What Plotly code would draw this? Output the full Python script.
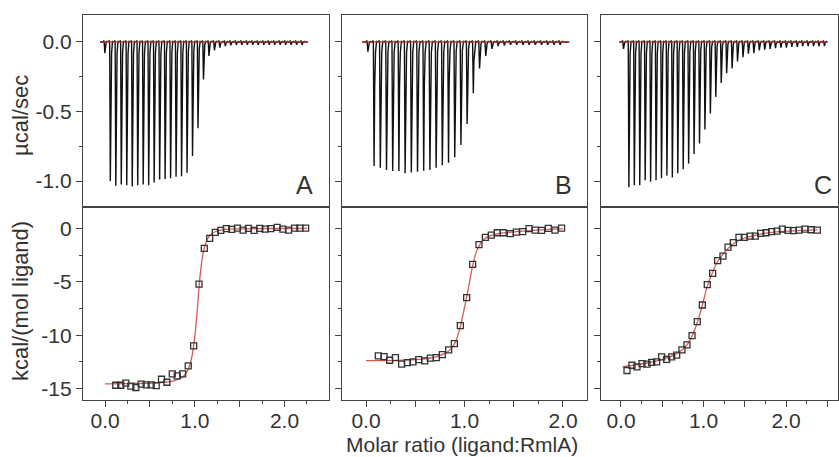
import plotly.graph_objects as go

# ---------------- data ----------------
# Top panels: raw thermogram, peak depth (µcal/sec) of each injection
peaks_A = [-0.08, -1.00, -1.035, -1.025, -1.03, -1.04, -1.03, -1.025, -1.03, -1.01,
           -0.99, -0.985, -0.98, -0.97, -0.965, -0.94, -0.82, -0.62, -0.27, -0.10,
           -0.06, -0.04, -0.03, -0.025, -0.02, -0.02, -0.02, -0.02, -0.02, -0.02,
           -0.02, -0.02, -0.02, -0.02, -0.02, -0.02, -0.02]
peaks_B = [-0.07, -0.892, -0.904, -0.921, -0.928, -0.928, -0.945, -0.938, -0.933, -0.926,
           -0.921, -0.904, -0.887, -0.868, -0.830, -0.741, -0.590, -0.369, -0.19, -0.10,
           -0.05, -0.03, -0.025, -0.02, -0.02, -0.02, -0.02, -0.02, -0.02, -0.02,
           -0.02, -0.02]
peaks_C = [-0.05, -1.045, -1.03, -1.03, -0.995, -1.005, -0.995, -0.98, -0.96, -0.975,
           -0.945, -0.915, -0.875, -0.805, -0.73, -0.63, -0.515, -0.395, -0.295, -0.225,
           -0.19, -0.14, -0.11, -0.085, -0.08, -0.06, -0.055, -0.05, -0.045, -0.04,
           -0.04, -0.035, -0.035, -0.03, -0.03, -0.03, -0.03, -0.03]
# injection schedule (minutes)
first_inj = {"A": 2.35, "B": 2.42, "C": 2.0}
inj_interval = 3.0
run_end = {"A": 113.8, "B": 100.1, "C": 114.6}

# Bottom panels: integrated heats
ratio_A = [0.119, 0.175, 0.231, 0.287, 0.343, 0.402, 0.458, 0.514, 0.570, 0.629, 0.689, 0.749,
           0.804, 0.864, 0.927, 0.987, 1.047, 1.106, 1.166, 1.229, 1.289, 1.352, 1.412, 1.475,
           1.538, 1.598, 1.661, 1.724, 1.784, 1.847, 1.918, 1.981, 2.045, 2.112, 2.171, 2.235]
heat_A = [-14.68, -14.68, -14.49, -14.77, -14.89, -14.58, -14.65, -14.65, -14.71, -14.12, -14.40,
          -13.62, -13.80, -13.62, -12.87, -11.00, -5.21, -1.87, -0.94, -0.38, -0.19, -0.03,
          -0.10, 0.03, -0.16, 0.00, -0.19, 0.00, -0.07, -0.03, 0.09, -0.07, -0.16, 0.03, 0.03, 0.03]
ratio_B = [0.125, 0.183, 0.240, 0.298, 0.362, 0.420, 0.477, 0.535, 0.596, 0.653, 0.714, 0.775,
           0.839, 0.897, 0.958, 1.022, 1.083, 1.147, 1.212, 1.272, 1.333, 1.394, 1.465, 1.526,
           1.591, 1.655, 1.719, 1.783, 1.851, 1.919, 1.986]
heat_B = [-11.93, -12.00, -12.34, -12.09, -12.71, -12.56, -12.50, -12.28, -12.40, -12.15, -12.09,
          -11.81, -11.37, -10.78, -9.10, -6.48, -3.37, -1.53, -0.84, -0.63, -0.41, -0.41, -0.50,
          -0.35, -0.31, -0.03, -0.16, -0.19, 0.00, -0.16, 0.03]
ratio_C = [0.073, 0.133, 0.194, 0.255, 0.315, 0.372, 0.432, 0.493, 0.554, 0.614, 0.675, 0.739,
           0.800, 0.861, 0.925, 0.986, 1.046, 1.111, 1.172, 1.236, 1.297, 1.362, 1.430, 1.495,
           1.564, 1.628, 1.693, 1.758, 1.826, 1.891, 1.956, 2.024, 2.089, 2.158, 2.230, 2.303, 2.380]
heat_C = [-13.30, -12.81, -12.96, -12.65, -12.71, -12.53, -12.50, -12.03, -12.25, -12.03, -11.87,
          -11.37, -10.91, -10.03, -8.73, -7.17, -5.27, -4.21, -3.02, -2.59, -1.75, -1.34, -0.84,
          -0.84, -0.72, -0.72, -0.47, -0.41, -0.31, -0.25, -0.07, -0.19, -0.22, -0.16, -0.07,
          -0.13, -0.16]

# fitted curves
fit_x_A = [0.0, 0.3, 0.6, 0.75, 0.85, 0.9, 0.94, 0.97, 0.99, 1.01, 1.03, 1.05, 1.07, 1.09,
           1.11, 1.14, 1.18, 1.24, 1.32, 1.45, 1.7, 2.0, 2.25]
fit_y_A = [-14.55, -14.52, -14.45, -14.3, -14.0, -13.6, -12.9, -11.9, -10.8, -9.3, -7.4, -5.2,
           -3.6, -2.4, -1.7, -1.0, -0.55, -0.27, -0.12, -0.05, -0.02, -0.01, 0.0]
fit_x_B = [0.0, 0.3, 0.55, 0.7, 0.8, 0.86, 0.91, 0.96, 1.0, 1.04, 1.08, 1.12, 1.16, 1.2, 1.26,
           1.35, 1.5, 1.7, 1.85, 2.0]
fit_y_B = [-12.37, -12.35, -12.25, -12.05, -11.7, -11.3, -10.6, -9.1, -7.4, -5.6, -3.6, -2.2,
           -1.45, -1.0, -0.7, -0.48, -0.32, -0.18, -0.1, -0.03]
fit_x_C = [0.02, 0.3, 0.5, 0.68, 0.8, 0.86, 0.925, 0.986, 1.046, 1.11, 1.17, 1.24, 1.3, 1.4,
           1.5, 1.65, 1.8, 2.0, 2.2, 2.38]
fit_y_C = [-12.93, -12.62, -12.25, -11.7, -10.9, -10.1, -8.8, -7.2, -5.4, -4.1, -3.1, -2.4,
           -1.85, -1.25, -0.9, -0.6, -0.4, -0.26, -0.18, -0.14]

panel_labels = ["A", "B", "C"]
y_top_ticks = [0.0, -0.5, -1.0]
y_top_text = ["0.0", "-0.5", "-1.0"]
y_bot_ticks = [0, -5, -10, -15]
y_bot_text = ["0", "-5", "-10", "-15"]
x_bot_ticks = [0.0, 0.5, 1.0, 1.5, 2.0, 2.5]
x_bot_text = ["0.0", "", "1.0", "", "2.0", ""]

# ---------------- layout geometry ----------------
W, H = 839, 457
ML, MR, MT, MB = 83, 1, 15, 57
PW, PH = W - ML - MR, H - MT - MB
cols_px = [(83, 328.5), (342, 587), (601, 838)]
row_split_px = 207
x_dom = [[(a - ML) / PW, (b - ML) / PW] for a, b in cols_px]
y_dom_top = [(H - MB - row_split_px) / PH, 1.0]
y_dom_bot = [0.0, (H - MB - row_split_px) / PH]
top_xrange = {"A": [-9.3, 125.1], "B": [-9.8, 108.7], "C": [-10.1, 120.8]}
bot_xrange = {"A": [-0.246, 2.49], "B": [-0.244, 2.244], "C": [-0.242, 2.63]}
top_yrange = [-1.187, 0.194]
bot_yrange = [-16.06, 2.0]

FONT = "Liberation Sans, Arial, sans-serif"
TXT = "#333333"
AX = "#444444"
TICK_FS = 21
TITLE_FS = 22

# spike shape: (time offset, fraction of depth, absolute offset)
SPIKE = [(-0.45, 0.0, 0.0), (-0.25, 0.0, 0.012), (-0.05, 0.0, 0.0), (0.3, 1.0, 0.0),
         (0.6, 0.35, 0.0), (1.0, 0.08, 0.0), (1.5, 0.0, 0.004), (1.9, 0.0, 0.0)]


def thermogram(peaks, t0, dt, t_end):
    xs, ys = [0.0], [0.0]
    for k, d in enumerate(peaks):
        t = t0 + k * dt
        for o, f, a in SPIKE:
            xs.append(t + o)
            ys.append(d * f + a)
    xs.append(t_end)
    ys.append(0.0)
    return xs, ys


fig = go.Figure()
peaks_all = {"A": peaks_A, "B": peaks_B, "C": peaks_C}
bots = {"A": (ratio_A, heat_A, fit_x_A, fit_y_A),
        "B": (ratio_B, heat_B, fit_x_B, fit_y_B),
        "C": (ratio_C, heat_C, fit_x_C, fit_y_C)}

for i, lab in enumerate(panel_labels):
    xt = "x" if i == 0 else f"x{i+1}"
    yt = "y" if i == 0 else f"y{i+1}"
    xs, ys = thermogram(peaks_all[lab], first_inj[lab], inj_interval, run_end[lab])
    fig.add_trace(go.Scatter(x=xs, y=ys, mode="lines", xaxis=xt, yaxis=yt,
                             line=dict(color="#111111", width=1.4), showlegend=False))
    fig.add_trace(go.Scatter(x=[0.0, run_end[lab]], y=[0.0, 0.0], mode="lines",
                             xaxis=xt, yaxis=yt,
                             line=dict(color="#c0302c", width=1.3), showlegend=False))
    xb = f"x{i+4}"
    yb = f"y{i+4}"
    rx, hy, fx, fy = bots[lab]
    fig.add_trace(go.Scatter(x=fx, y=fy, mode="lines", xaxis=xb, yaxis=yb,
                             line=dict(color="#d65a55", width=1.3, shape="spline",
                                       smoothing=0.6),
                             showlegend=False))
    fig.add_trace(go.Scatter(x=rx, y=hy, mode="markers", xaxis=xb, yaxis=yb,
                             marker=dict(symbol="square-open", size=6, color="#333333",
                                         line=dict(width=1.3)),
                             showlegend=False))

layout = dict(width=W, height=H, margin=dict(l=ML, r=MR, t=MT, b=MB),
              paper_bgcolor="white", plot_bgcolor="white",
              font=dict(family=FONT, size=TICK_FS, color=TXT), showlegend=False)

common_line = dict(showline=True, linecolor=AX, linewidth=1.4, mirror=True,
                   showgrid=False, zeroline=False)

for i, lab in enumerate(panel_labels):
    xk = "xaxis" if i == 0 else f"xaxis{i+1}"
    yk = "yaxis" if i == 0 else f"yaxis{i+1}"
    xa = "x" if i == 0 else f"x{i+1}"
    ya = "y" if i == 0 else f"y{i+1}"
    layout[xk] = dict(domain=x_dom[i], range=top_xrange[lab], anchor=ya,
                      showticklabels=False, ticks="", **common_line)
    layout[yk] = dict(domain=y_dom_top, range=top_yrange, anchor=xa,
                      tickvals=y_top_ticks, ticktext=y_top_text,
                      showticklabels=(i == 0), ticks="outside", ticklen=6,
                      tickwidth=1.3, tickcolor=AX,
                      minor=dict(dtick=0.25, tick0=0, ticks="outside", ticklen=3,
                                 tickwidth=1.2, tickcolor=AX),
                      tickfont=dict(size=TICK_FS, color=TXT), **common_line)
    xk2 = f"xaxis{i+4}"
    yk2 = f"yaxis{i+4}"
    layout[xk2] = dict(domain=x_dom[i], range=bot_xrange[lab], anchor=f"y{i+4}",
                       tickvals=x_bot_ticks, ticktext=x_bot_text,
                       ticks="outside", ticklen=6, tickwidth=1.3, tickcolor=AX,
                       ticklabelstandoff=-4,
                       minor=dict(dtick=0.25, tick0=0, ticks="outside", ticklen=3,
                                  tickwidth=1.2, tickcolor=AX),
                       tickfont=dict(size=TICK_FS, color=TXT), **common_line)
    layout[yk2] = dict(domain=y_dom_bot, range=bot_yrange, anchor=f"x{i+4}",
                       tickvals=y_bot_ticks, ticktext=y_bot_text,
                       showticklabels=(i == 0), ticks="outside", ticklen=6,
                       tickwidth=1.3, tickcolor=AX,
                       minor=dict(dtick=2.5, tick0=0, ticks="outside", ticklen=3,
                                  tickwidth=1.2, tickcolor=AX),
                       tickfont=dict(size=TICK_FS, color=TXT), **common_line)

annotations = []
label_shift = {"A": -14, "B": -13, "C": -4}
for i, lab in enumerate(panel_labels):
    xa = "x" if i == 0 else f"x{i+1}"
    ya = "y" if i == 0 else f"y{i+1}"
    annotations.append(dict(text=lab, xref=f"{xa} domain", yref=f"{ya} domain",
                            x=1, y=0, xanchor="right", yanchor="bottom",
                            xshift=label_shift[lab], yshift=6, showarrow=False,
                            font=dict(size=25, color=TXT, family=FONT)))

annotations.append(dict(text="µcal/sec", xref="paper", yref="paper",
                        x=(21 - ML) / PW, y=(H - MB - 116) / PH, textangle=-90,
                        xanchor="center", yanchor="middle", showarrow=False,
                        font=dict(size=TITLE_FS, color=TXT)))
annotations.append(dict(text="kcal/(mol ligand)", xref="paper", yref="paper",
                        x=(20 - ML) / PW, y=(H - MB - 301) / PH, textangle=-90,
                        xanchor="center", yanchor="middle", showarrow=False,
                        font=dict(size=TITLE_FS, color=TXT)))
annotations.append(dict(text="Molar ratio (ligand:RmlA)", xref="paper", yref="paper",
                        x=(462 - ML) / PW, y=(H - MB - 457) / PH,
                        xanchor="center", yanchor="bottom", showarrow=False,
                        borderpad=0,
                        font=dict(size=21, color=TXT)))
layout["annotations"] = annotations

fig.update_layout(**layout)
fig.write_html("out.html", config={"displayModeBar": False},
               post_script="document.body.style.margin='0px';"
                           "document.documentElement.style.overflow='hidden';")
